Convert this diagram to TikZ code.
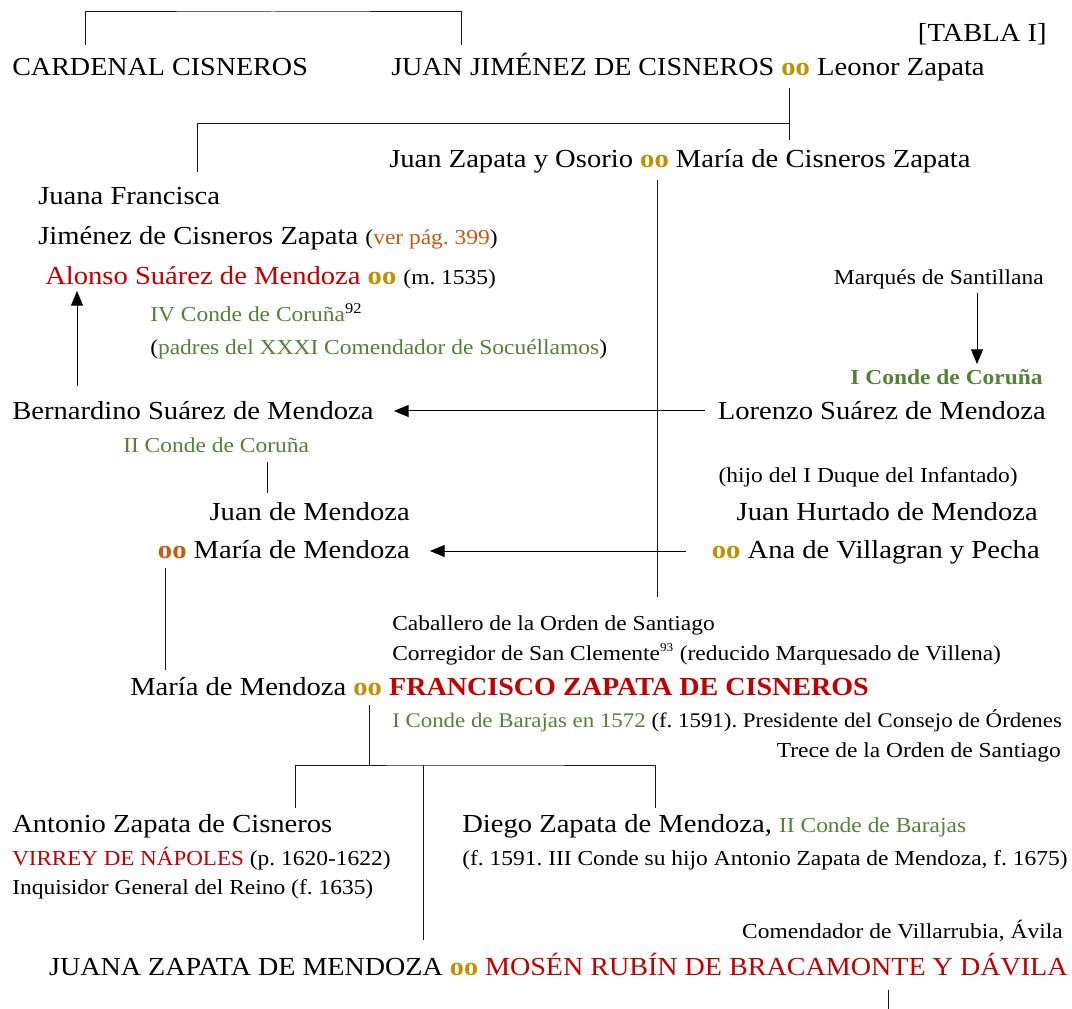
\documentclass[tikz,border=0pt]{standalone}
\usepackage{fontspec}
\setmainfont{Liberation Serif}[FakeStretch=1.1]
\newfontfamily\capsfont{Liberation Serif}[FakeStretch=1.08]
\usetikzlibrary{arrows.meta}

\definecolor{tabred}{RGB}{192,0,0}
\definecolor{tabgold}{RGB}{191,144,0}
\definecolor{tabgreen}{RGB}{84,130,53}
\definecolor{taborange}{RGB}{197,90,17}

\newcommand{\bigsize}{\fontsize{19.5}{24}\selectfont}
\newcommand{\smsize}{\fontsize{16}{19}\selectfont}
\newcommand{\matr}{\textcolor{tabgold}{\textbf{oo}}}

\begin{document}
\frenchspacing
\begin{tikzpicture}[x=0.75pt,y=-0.75pt,
    person/.style={inner sep=0pt, font=\bigsize},
    remark/.style={inner sep=0pt, font=\smsize},
    link/.style={draw=black!90, line width=0.75pt},
    arr/.style={draw=black, line width=0.75pt, -{Triangle[length=11pt,width=9pt]}}]

    \useasboundingbox (0,0) rectangle (1072,1009);

    % first generation
    \node[person, anchor=base east] (tabla) at (1047,42) {[TABLA I]};
    \node[person, anchor=base west] (cardenal) at (12,76) {\capsfont CARDENAL CISNEROS};
    \node[person, anchor=base west] (juanjim) at (391,76) {{\capsfont JUAN JIMÉNEZ DE CISNEROS} \matr{} Leonor Zapata};
    \coordinate (cardtop) at (85,45);
    \coordinate (juantop) at (461,45);
    \draw[link] (cardtop) |- (273,12) -| (juantop);

    % children of Juan Jimenez
    \node[person, anchor=base west] (zapata) at (389,168) {Juan Zapata y Osorio \matr{} María de Cisneros Zapata};
    \node[person, anchor=base west] (juana) at (38,205) {Juana Francisca};
    \node[person, anchor=base west] (jimenez) at (38,245) {Jiménez de Cisneros Zapata \smsize(\textcolor{taborange}{ver pág. 399})};
    \node[person, anchor=base west] (alonso) at (45,285) {\textcolor{tabred}{Alonso Suárez de Mendoza} \matr{} \smsize(m. 1535)};
    \node[remark, anchor=base west] (cuarto) at (150,322) {\textcolor{tabgreen}{IV Conde de Coruña}\textsuperscript{92}};
    \node[remark, anchor=base west] (padres) at (150,355) {(\textcolor{tabgreen}{padres del XXXI Comendador de Socuéllamos})};
    \coordinate (jjoo) at (789,88);
    \coordinate (jjend) at (789,140);
    \coordinate (juanabr) at (197,172);
    \draw[link] (jjoo) -- (jjend);
    \draw[link] (jjoo |- 0,124) -| (juanabr);

    % Mendoza line
    \node[remark, anchor=base east] (santillana) at (1044,285) {Marqués de Santillana};
    \node[remark, anchor=base east, text=tabgreen, font=\smsize\bfseries] (primero) at (1043,385) {I Conde de Coruña};
    \node[person, anchor=base east] (lorenzo) at (1046,420) {Lorenzo Suárez de Mendoza};
    \node[person, anchor=base west] (bernardino) at (12,420) {Bernardino Suárez de Mendoza};
    \node[remark, anchor=base west, text=tabgreen] (segundo) at (123,453) {II Conde de Coruña};
    \node[remark, anchor=base east] (hijo) at (1018,483) {(hijo del I Duque del Infantado)};
    \node[person, anchor=base east] (hurtado) at (1038,520) {Juan Hurtado de Mendoza};
    \node[person, anchor=base east] (ana) at (1040,558) {\matr{} Ana de Villagran y Pecha};
    \node[person, anchor=base east] (juanmen) at (410,520) {Juan de Mendoza};
    \node[person, anchor=base east] (mariamen) at (410,558) {\textcolor{taborange}{\textbf{oo}} María de Mendoza};

    \coordinate (santbot) at (977,293);
    \coordinate (primtop) at (977,364);
    \draw[arr] (santbot) -- (primtop);
    \coordinate (bernup) at (77,386);
    \coordinate (alonbot) at (77,291);
    \draw[arr] (bernup) -- (alonbot);
    \coordinate (lorarr) at (705,411);
    \coordinate (bernarr) at (394,411);
    \draw[arr] (lorarr) -- (bernarr);
    \coordinate (anaarr) at (686,551);
    \coordinate (mariaarr) at (430,551);
    \draw[arr] (anaarr) -- (mariaarr);
    \coordinate (segbot) at (267,462);
    \draw[link] (segbot) -- (267,493);

    % Francisco Zapata
    \coordinate (zapoo) at (657,180);
    \draw[link] (zapoo) -- (657,597);
    \node[remark, anchor=base west] (caballero) at (392,630) {Caballero de la Orden de Santiago};
    \node[remark, anchor=base west] (corregidor) at (392,660) {Corregidor de San Clemente\textsuperscript{\fontsize{9}{9}\selectfont 93} (reducido Marquesado de Villena)};
    \node[person, anchor=base west] (francisco) at (130,695) {María de Mendoza \matr{} \textcolor{tabred}{\capsfont\bfseries FRANCISCO ZAPATA DE CISNEROS}};
    \node[remark, anchor=base west, font=\fontsize{15.6}{19}\selectfont] (barajas) at (392,727) {\textcolor{tabgreen}{I Conde de Barajas en 1572} (f. 1591). Presidente del Consejo de Órdenes};
    \node[remark, anchor=base east] (trece) at (1061,757) {Trece de la Orden de Santiago};
    \coordinate (mmbot) at (165,568);
    \draw[link] (mmbot) -- (165,670);

    % children of Francisco
    \coordinate (froo) at (369,705);
    \draw[link] (froo) -- (369,765);
    \node[person, anchor=base west] (antonio) at (12,832) {Antonio Zapata de Cisneros};
    \node[remark, anchor=base west] (virrey) at (12,865) {\textcolor{tabred}{\capsfont VIRREY DE NÁPOLES} (p. 1620-1622)};
    \node[remark, anchor=base west] (inquisidor) at (12,894) {Inquisidor General del Reino (f. 1635)};
    \node[person, anchor=base west] (diego) at (462,832) {Diego Zapata de Mendoza, \smsize\textcolor{tabgreen}{II Conde de Barajas}};
    \node[remark, anchor=base west] (diegonota) at (462,865) {(f. 1591. III Conde su hijo Antonio Zapata de Mendoza, f. 1675)};
    \node[remark, anchor=base east] (comendador) at (1063,938) {Comendador de Villarrubia, Ávila};
    \node[person, anchor=base east] (juanaz) at (1068,975) {\capsfont JUANA ZAPATA DE MENDOZA \matr{} \textcolor{tabred}{MOSÉN RUBÍN DE BRACAMONTE Y DÁVILA}};
    \coordinate (antop) at (295,808);
    \coordinate (ditop) at (655,808);
    \draw[link] (antop) |- (475,765) -| (ditop);
    \draw[link] (423,765) -- (423,940);
    \coordinate (rubbot) at (888,990);
    \draw[link] (rubbot) -- (888,1009);

\end{tikzpicture}
\end{document}
